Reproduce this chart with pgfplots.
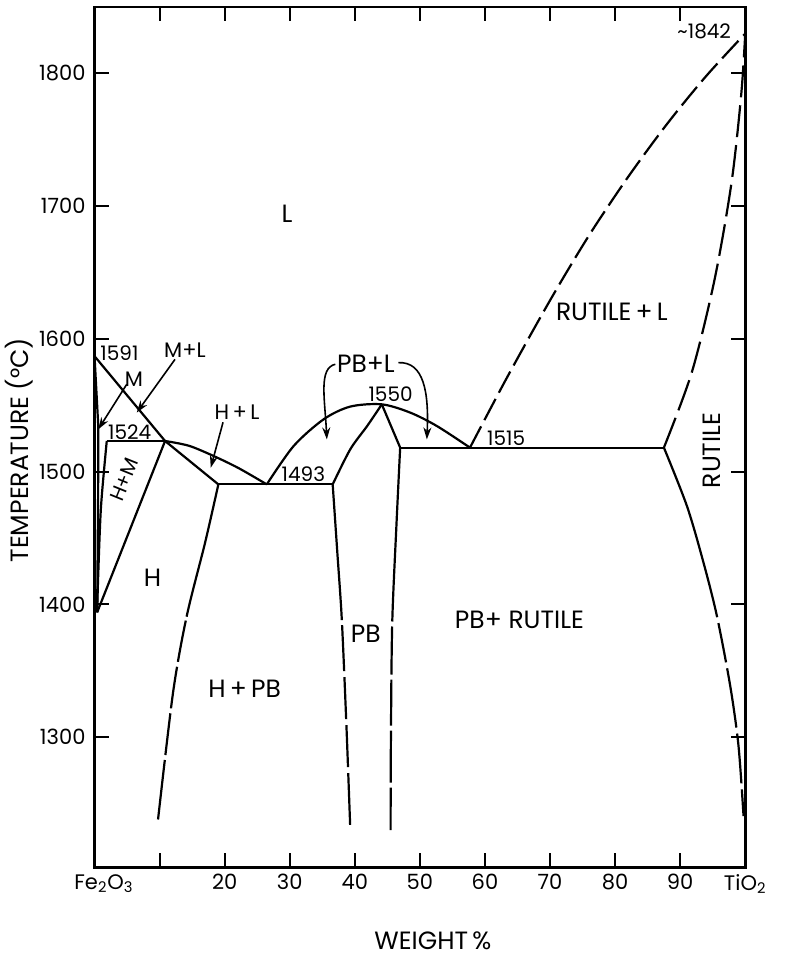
\documentclass[border=0pt]{standalone}
\usepackage{pgfplots}
\pgfplotsset{compat=1.18}
\usepackage{fontspec}
\setmainfont{Poppins}
\usetikzlibrary{arrows.meta}
\newcommand\Lf{\fontsize{12.5}{14}\selectfont}
\newcommand\Mf{\fontsize{10.5}{12}\selectfont}
\newcommand\Nf{\fontsize{10}{12}\selectfont}
\tikzset{
  ph/.style={line width=1.1pt, black},
  dL/.style={ph, dash pattern=on 12pt off 3.5pt},
  dS/.style={ph, dash pattern=on 16pt off 4pt},
  arr/.style={line width=0.8pt, -{Stealth[length=6pt,width=4pt]}},
}
\begin{document}
\begin{tikzpicture}
\useasboundingbox (-47.25pt,-45.35pt) rectangle (345pt,433.5pt);
\begin{axis}[
  at={(0,0)}, anchor=south west,
  scale only axis, width=325.25pt, height=430pt,
  xmin=0, xmax=100, ymin=1202, ymax=1850,
  clip=false,
  axis line style={line width=1.4pt},
  tick align=inside, major tick length=7pt,
  every tick/.style={black, line width=1pt},
  xtick={0,10,...,100},
  xticklabels={\hspace*{9.5pt}Fe\textsubscript{2}O\textsubscript{3},,20,30,40,50,60,70,80,90,TiO\textsubscript{2}},
  ytick={1300,1400,...,1800},
  xticklabel pos=lower, yticklabel pos=left,
  /pgf/number format/assume math mode=true,
  /pgf/number format/1000 sep={},
  ticklabel style={font=\Mf},
  yticklabel style={xshift=-1pt},
  every axis plot/.append style={mark=none, line join=round},
]
% ---- liquidus from Fe2O3 side (two straight segments)
\addplot[ph] coordinates {(0,1587) (10.84,1523.1) (19.03,1490.4)};
% M solidus near axis
\addplot[ph] coordinates {(0,1587) (0.58,1534) (0.55,1480) (0.45,1420) (0.4,1394)};
% peritectic horizontal 1524
\addplot[ph] coordinates {(1.88,1523.1) (10.84,1523.1)};
% H+M left boundary
\addplot[ph, smooth] coordinates {(1.88,1523.1) (1.0,1474) (0.58,1424) (0.4,1394)};
% H / H+M boundary
\addplot[ph] coordinates {(10.84,1523.1) (0.4,1394)};
% H liquidus
\addplot[ph, smooth] coordinates {(10.84,1523.1) (14.5,1519.5) (18.3,1511.8) (22.2,1502.5) (26.47,1490.4)};
% eutectic 1493
\addplot[ph] coordinates {(19.03,1490.4) (36.6,1490.4)};
% H solvus (solid, then dashed)
\addplot[ph, smooth, dash pattern=on 68pt off 2pt on 21pt off 2.5pt on 21pt off 2.5pt on 21pt off 2.5pt on 60pt off 2pt]
  coordinates {(19.03,1490.4) (17.0,1446.7) (14.17,1391.2) (12.07,1333.7) (9.76,1238)};
% PB liquidus
\addplot[ph, smooth] coordinates {(26.47,1490.4) (30.6,1519.3) (35.2,1539.4) (39.3,1549) (44.15,1550.7) (48.5,1544.5) (52.6,1534.4) (57.7,1518.1)};
% PB solidus
\addplot[ph, smooth] coordinates {(36.6,1490.4) (39.3,1516.8) (41.9,1534.4) (44.15,1550.7)};
\addplot[ph] coordinates {(44.15,1550.7) (46.97,1518.1)};
% PB left boundary
\addplot[ph, smooth, dash pattern=on 68pt off 2.5pt on 23pt off 3pt on 21pt off 3pt on 21pt off 3pt on 60pt off 2pt]
  coordinates {(36.6,1490.4) (37.3,1440) (38.0,1388.7) (38.7,1310) (39.28,1234)};
% PB right boundary
\addplot[ph, smooth, dash pattern=on 87pt off 2.5pt on 24pt off 2.5pt on 23pt off 2.5pt on 26pt off 2.5pt on 60pt off 2pt]
  coordinates {(46.97,1518.1) (46.4,1460) (45.75,1386) (45.55,1300) (45.5,1230)};
% eutectic 1515
\addplot[ph] coordinates {(46.97,1518.1) (87.5,1518.1)};
% rutile liquidus
\addplot[dL, smooth] coordinates {(57.7,1518.1) (63.4,1571) (70,1629) (76,1678) (82,1722) (88,1762) (94,1798) (100,1830)};
% rutile solidus
\addplot[dS, smooth] coordinates {(87.5,1518.1) (91.8,1575) (95.3,1645) (97.9,1718) (99.4,1785) (100,1830)};
% rutile solvus
\addplot[ph, smooth, dash pattern=on 89pt off 3pt on 20pt off 3pt on 30pt off 3pt on 25pt off 3pt on 60pt off 2pt]
  coordinates {(87.5,1518.1) (91.04,1474.1) (93.59,1431.4) (95.65,1391.2) (97.7,1338.4) (98.97,1293.2) (99.74,1240.5)};

% ---- arrows
\draw[arr] (axis cs:4.95,1565.8) -- (axis cs:0.58,1531.9);
\draw[arr] (axis cs:12.37,1584.6) -- (axis cs:6.49,1544.5);
\draw[arr] (axis cs:19.75,1537.2) -- (axis cs:17.86,1503);
\draw[arr] (axis cs:37.0,1580.9) .. controls (axis cs:34.4,1578) and (axis cs:35.4,1555) .. (axis cs:35.7,1524.3);
\draw[arr] (axis cs:46.7,1582.1) .. controls (axis cs:50.6,1583) and (axis cs:51.4,1560) .. (axis cs:51.07,1524.3);

% ---- labels
\node[font=\Lf] at (axis cs:29.6,1693.9) {L};
\node[font=\Lf] at (axis cs:79.5,1620.4) {RUTILE\,+\,L};
\node[font=\Lf, rotate=90] at (axis cs:94.8,1516) {RUTILE};
\node[font=\Lf] at (axis cs:65.3,1388.7) {PB+ RUTILE};
\node[font=\Lf] at (axis cs:41.7,1378) {PB};
\node[font=\Lf] at (axis cs:23.06,1336.7) {H\,+\,PB};
\node[font=\Lf] at (axis cs:8.9,1420.3) {H};
\node[font=\Nf, rotate=68, inner sep=0pt] at (axis cs:4.6,1494) {H+M};
\node[font=\Mf] at (axis cs:6.07,1569.6) {M};
\node[font=\Mf] at (axis cs:13.9,1591.8) {M+L};
\node[font=\Mf] at (axis cs:21.9,1545) {H\,+\,L};
\node[font=\Lf] at (axis cs:41.7,1580.9) {PB+L};
\node[font=\Nf, anchor=west, inner sep=0pt] at (axis cs:0.85,1589.5) {1591};
\node[font=\Nf, inner sep=1pt] at (axis cs:5.4,1530) {1524};
\node[font=\Nf] at (axis cs:45.5,1558.6) {1550};
\node[font=\Nf] at (axis cs:32.1,1498.3) {1493};
\node[font=\Nf] at (axis cs:63.26,1525.5) {1515};
\node[font=\Nf] at (axis cs:93.7,1831.4) {\textasciitilde1842};
% axis titles
\node[font=\Lf, rotate=90] at (rel axis cs:-0.116,0.485) {TEMPERATURE (°C)};
\node[font=\Lf] at (rel axis cs:0.52,-0.085) {WEIGHT\,\%};
\end{axis}
\end{tikzpicture}
\end{document}
